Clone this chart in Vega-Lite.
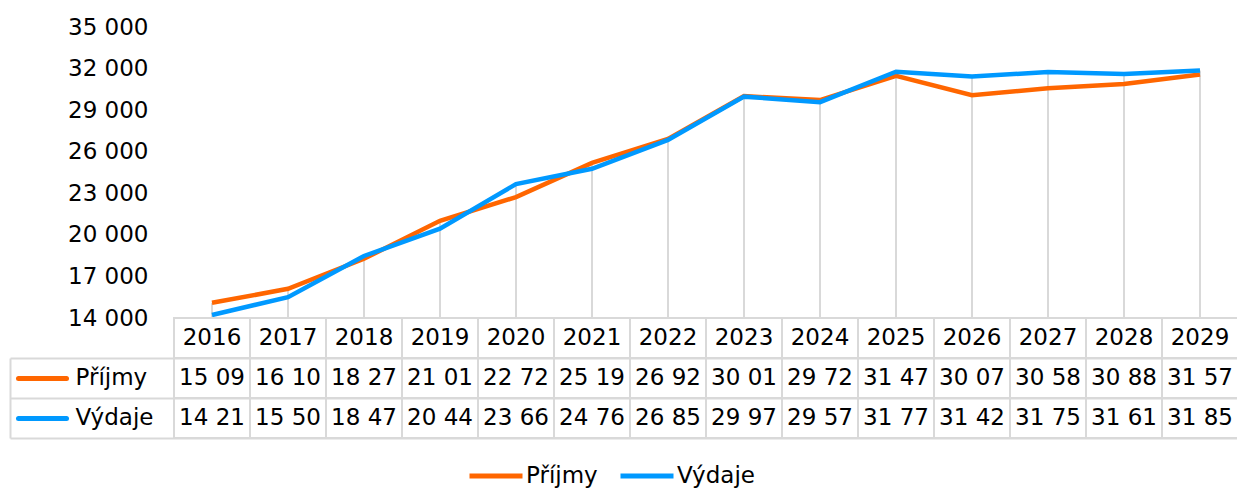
{
  "$schema": "https://vega.github.io/schema/vega-lite/v6.json",
  "padding": {"left": 10, "top": 16, "right": 0, "bottom": 0},
  "autosize": {"type": "pad"},
  "background": "white",
  "bounds": "flush",
  "spacing": 0,
  "config": {"view": {"stroke": null}, "font": "DejaVu Sans", "text": {"font": "DejaVu Sans"}},
  "datasets": {
    "series": [
      {"year": "2016", "series": "Příjmy", "value": 15095},
      {"year": "2017", "series": "Příjmy", "value": 16105},
      {"year": "2018", "series": "Příjmy", "value": 18275},
      {"year": "2019", "series": "Příjmy", "value": 21015},
      {"year": "2020", "series": "Příjmy", "value": 22725},
      {"year": "2021", "series": "Příjmy", "value": 25195},
      {"year": "2022", "series": "Příjmy", "value": 26925},
      {"year": "2023", "series": "Příjmy", "value": 30015},
      {"year": "2024", "series": "Příjmy", "value": 29725},
      {"year": "2025", "series": "Příjmy", "value": 31475},
      {"year": "2026", "series": "Příjmy", "value": 30075},
      {"year": "2027", "series": "Příjmy", "value": 30585},
      {"year": "2028", "series": "Příjmy", "value": 30885},
      {"year": "2029", "series": "Příjmy", "value": 31575},
      {"year": "2016", "series": "Výdaje", "value": 14215},
      {"year": "2017", "series": "Výdaje", "value": 15505},
      {"year": "2018", "series": "Výdaje", "value": 18475},
      {"year": "2019", "series": "Výdaje", "value": 20445},
      {"year": "2020", "series": "Výdaje", "value": 23665},
      {"year": "2021", "series": "Výdaje", "value": 24765},
      {"year": "2022", "series": "Výdaje", "value": 26855},
      {"year": "2023", "series": "Výdaje", "value": 29975},
      {"year": "2024", "series": "Výdaje", "value": 29575},
      {"year": "2025", "series": "Výdaje", "value": 31775},
      {"year": "2026", "series": "Výdaje", "value": 31425},
      {"year": "2027", "series": "Výdaje", "value": 31755},
      {"year": "2028", "series": "Výdaje", "value": 31615},
      {"year": "2029", "series": "Výdaje", "value": 31855}
    ],
    "table": [
      {"year": "2016", "row": "h", "label": "2016"},
      {"year": "2017", "row": "h", "label": "2017"},
      {"year": "2018", "row": "h", "label": "2018"},
      {"year": "2019", "row": "h", "label": "2019"},
      {"year": "2020", "row": "h", "label": "2020"},
      {"year": "2021", "row": "h", "label": "2021"},
      {"year": "2022", "row": "h", "label": "2022"},
      {"year": "2023", "row": "h", "label": "2023"},
      {"year": "2024", "row": "h", "label": "2024"},
      {"year": "2025", "row": "h", "label": "2025"},
      {"year": "2026", "row": "h", "label": "2026"},
      {"year": "2027", "row": "h", "label": "2027"},
      {"year": "2028", "row": "h", "label": "2028"},
      {"year": "2029", "row": "h", "label": "2029"},
      {"year": "2016", "row": "Příjmy", "label": "15 09"},
      {"year": "2017", "row": "Příjmy", "label": "16 10"},
      {"year": "2018", "row": "Příjmy", "label": "18 27"},
      {"year": "2019", "row": "Příjmy", "label": "21 01"},
      {"year": "2020", "row": "Příjmy", "label": "22 72"},
      {"year": "2021", "row": "Příjmy", "label": "25 19"},
      {"year": "2022", "row": "Příjmy", "label": "26 92"},
      {"year": "2023", "row": "Příjmy", "label": "30 01"},
      {"year": "2024", "row": "Příjmy", "label": "29 72"},
      {"year": "2025", "row": "Příjmy", "label": "31 47"},
      {"year": "2026", "row": "Příjmy", "label": "30 07"},
      {"year": "2027", "row": "Příjmy", "label": "30 58"},
      {"year": "2028", "row": "Příjmy", "label": "30 88"},
      {"year": "2029", "row": "Příjmy", "label": "31 57"},
      {"year": "2016", "row": "Výdaje", "label": "14 21"},
      {"year": "2017", "row": "Výdaje", "label": "15 50"},
      {"year": "2018", "row": "Výdaje", "label": "18 47"},
      {"year": "2019", "row": "Výdaje", "label": "20 44"},
      {"year": "2020", "row": "Výdaje", "label": "23 66"},
      {"year": "2021", "row": "Výdaje", "label": "24 76"},
      {"year": "2022", "row": "Výdaje", "label": "26 85"},
      {"year": "2023", "row": "Výdaje", "label": "29 97"},
      {"year": "2024", "row": "Výdaje", "label": "29 57"},
      {"year": "2025", "row": "Výdaje", "label": "31 77"},
      {"year": "2026", "row": "Výdaje", "label": "31 42"},
      {"year": "2027", "row": "Výdaje", "label": "31 75"},
      {"year": "2028", "row": "Výdaje", "label": "31 61"},
      {"year": "2029", "row": "Výdaje", "label": "31 85"}
    ]
  },
  "vconcat": [
    {
      "width": 1228,
      "height": 291,
      "data": {"name": "series"},
      "layer": [
        {
          "mark": {"type": "rule", "color": "#d9d9d9", "strokeWidth": 2},
          "encoding": {
            "x": {"field": "year", "type": "nominal", "bandPosition": 0.5,
                  "scale": {"type": "band", "domain": [" ", "2016", "2017", "2018", "2019", "2020", "2021", "2022", "2023", "2024", "2025", "2026", "2027", "2028", "2029"],
                            "paddingInner": 0, "paddingOuter": 0.5789, "align": 1}, "axis": null},
            "y": {"aggregate": "max", "field": "value", "type": "quantitative",
                  "scale": {"domain": [14000, 35000], "nice": false, "zero": false},
                  "axis": {"values": [14000, 17000, 20000, 23000, 26000, 29000, 32000, 35000],
                           "domain": false, "ticks": false, "tickSize": 0, "grid": false, "offset": -164,
                           "labelPadding": 26, "labelFontSize": 23, "labelColor": "#000000", "title": null,
                           "labelExpr": "replace(format(datum.value, ','), ',', ' ')"}},
            "y2": {"datum": 14000}
          }
        },
        {
          "mark": {"type": "line", "strokeWidth": 4.5},
          "encoding": {
            "x": {"field": "year", "type": "nominal", "bandPosition": 0.5},
            "y": {"field": "value", "type": "quantitative"},
            "color": {"field": "series", "type": "nominal",
                      "scale": {"domain": ["Příjmy", "Výdaje"], "range": ["#FF6600", "#0099FF"]},
                      "legend": {"orient": "none", "legendX": 457, "legendY": 420, "direction": "horizontal",
                                 "title": null, "symbolType": "stroke", "symbolStrokeWidth": 5, "symbolSize": 2809,
                                 "labelFontSize": 23, "labelColor": "#000000", "columnPadding": 12, "labelOffset": 1}}
          }
        }
      ]
    },
    {
      "width": 1228,
      "height": 120,
      "data": {"name": "table"},
      "layer": [
        {
          "mark": {"type": "rect", "fill": "transparent", "stroke": "#d9d9d9", "strokeWidth": 2},
          "encoding": {
            "x": {"field": "year", "type": "nominal",
                  "scale": {"type": "band", "domain": [" ", "2016", "2017", "2018", "2019", "2020", "2021", "2022", "2023", "2024", "2025", "2026", "2027", "2028", "2029"],
                            "paddingInner": 0, "paddingOuter": 0.5789, "align": 1}, "axis": null},
            "y": {"field": "row", "type": "nominal",
                  "scale": {"domain": ["h", "Příjmy", "Výdaje"], "paddingInner": 0, "paddingOuter": 0},
                  "axis": {"orient": "left", "grid": true, "tickBand": "extent", "gridColor": "#d9d9d9", "gridWidth": 2,
                           "gridOpacity": {"condition": {"test": "datum.extra", "value": 0}, "value": 1},
                           "ticks": false, "labels": false, "domain": true, "domainColor": "#d9d9d9", "domainWidth": 2,
                           "domainDash": [0, 40, 200], "title": null}}
          }
        },
        {
          "mark": {"type": "text", "fontSize": 23, "color": "#000000"},
          "encoding": {
            "x": {"field": "year", "type": "nominal"},
            "y": {"field": "row", "type": "nominal",
                  "axis": {"orient": "left", "offset": -56, "grid": false, "domain": false, "ticks": true,
                           "tickBand": "center", "tickSize": 48, "tickWidth": 5, "tickCap": "round",
                           "tickColor": {"condition": {"test": "datum.value === 'Příjmy'", "value": "#FF6600"}, "value": "#0099FF"},
                           "tickOpacity": {"condition": {"test": "datum.value === 'h'", "value": 0}, "value": 1},
                           "labelExpr": "datum.value === 'h' ? '' : datum.value",
                           "labelAlign": "left", "labelPadding": -57, "labelFontSize": 23, "labelColor": "#000000", "title": null}},
            "text": {"field": "label"}
          }
        }
      ],
      "resolve": {"axis": {"y": "independent"}}
    }
  ]
}
